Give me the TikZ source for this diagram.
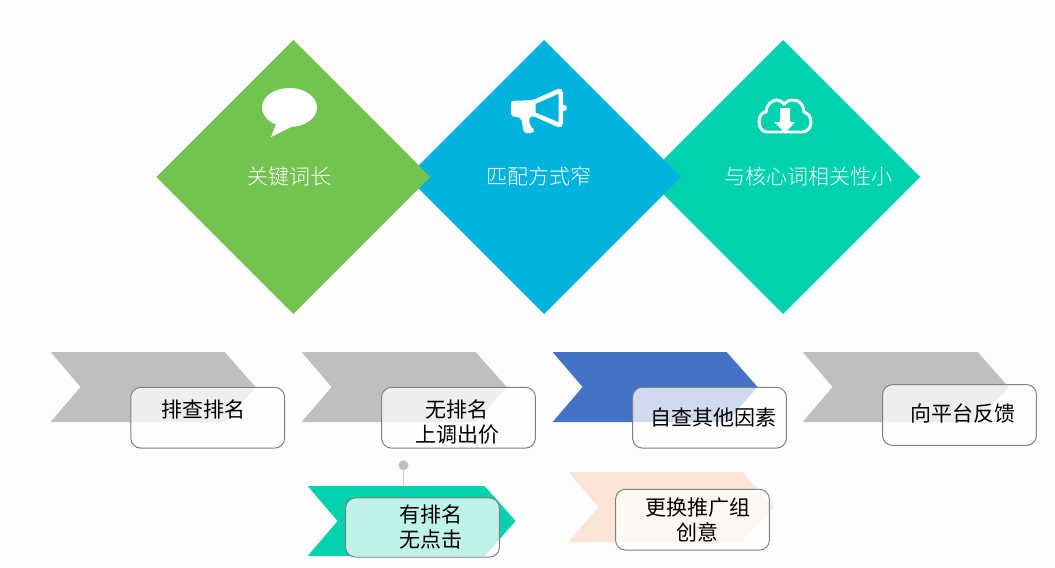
\documentclass[tikz,border=0pt]{standalone}
\usepackage{fontspec}
\newfontfamily\cjk{Noto Sans CJK SC Light}
\newfontfamily\cjkbox{Noto Sans CJK SC}
\usetikzlibrary{patterns,positioning}
\definecolor{leafGreen}{RGB}{114, 195, 79}
\definecolor{skyBlue}{RGB}{0, 179, 220}
\definecolor{mintTeal}{RGB}{0, 209, 174}
\definecolor{chevGray}{RGB}{191, 191, 191}
\definecolor{royalBlue}{RGB}{68, 114, 196}
\definecolor{peachTint}{RGB}{251, 229, 214}
\tikzset{
  headtext/.style={text=white, font=\cjk\fontsize{15.75}{18}\selectfont, inner sep=0pt},
  boxtext/.style={text=black, font=\cjkbox\fontsize{15.75}{18.75}\selectfont, align=center, inner sep=0pt},
  notebox/.style={draw=black!50, line width=0.75pt, fill=white, fill opacity=0.75, rounded corners=7.5pt,
    minimum width=115.4pt, minimum height=45.6pt, inner sep=0pt},
}
\begin{document}
\begin{tikzpicture}[x=0.75pt, y=-0.75pt]
    \useasboundingbox (0,0) rectangle (1055,567);
    \fill[white] (0,0) rectangle (1055,567);
    \fill[pattern=crosshatch dots, pattern color=black!5] (0,0) rectangle (1055,567);
    % diamonds, last one on top
    \foreach \x/\c in {783/mintTeal,544/skyBlue,293.3/leafGreen} {
        \fill[\c] (\x-137,177) -- (\x,40) -- (\x+137,177) -- (\x,314) -- cycle;
    }
    \node[headtext] (longword) at (289,176.5) {关键词长};
    \node[headtext] (narrowmatch) at (539,176.5) {匹配方式窄};
    \node[headtext] (lowrelevance) at (808,176.5) {与核心词相关性小};
    % speech bubble
    \fill[white] (289.5,107.5) ellipse (27.5 and 19.5);
    \fill[white] (277,122) -- (271,137) -- (293,126) -- cycle;
    % megaphone
    \fill[white, rounded corners=1.5pt] (511,101) -- (533,100) -- (560,88) -- (563,91) -- (563,125)
        -- (560,128) -- (533,116) -- (529,117) -- (530,126) -- (535,130) -- (533,133) -- (524,133)
        -- (521,118) -- (511,116) -- cycle;
    \fill[skyBlue] (535.5,104) -- (558.5,94) -- (558.5,122) -- (535.5,112.5) -- cycle;
    \fill[white] (564,108) circle (3);
    % cloud with arrow
    \draw[white, line width=2.2pt] (767,132) .. controls (762,132) and (759,127) .. (759,122)
        .. controls (759,116) and (762,112) .. (766,112)
        .. controls (766,105) and (772,100) .. (777,100)
        .. controls (780,100) and (782,102) .. (784,104)
        .. controls (786,102) and (789,100) .. (793,100)
        .. controls (800,100) and (804,106) .. (804,112)
        .. controls (808,113) and (811,117) .. (811,122)
        .. controls (811,128) and (807,132) .. (802,132) -- cycle;
    \fill[white] (780,108) -- (790,108) -- (790,122) -- (795,122) -- (785,133) -- (774,122) -- (780,122) -- cycle;
    % link to the lower chevron
    \node[circle, fill=chevGray, minimum size=7.5pt, inner sep=0pt] (linkdot) at (403.5,465.3) {};
    \coordinate (linkend) at (403.5,486);
    \draw[black!20, line width=0.6pt] (linkdot) -- (linkend);
    % chevrons
    \foreach \x/\y/\w/\c in {50.6/352/174/chevGray,301.6/352/174/chevGray,552.6/352/174/royalBlue,802.6/352/175/chevGray,
        307.6/486/177/mintTeal,568.4/472/174/peachTint} {
        \fill[\c] (\x,\y) -- (\x+\w,\y) -- (\x+\w+31,\y+35) -- (\x+\w,\y+70) -- (\x,\y+70) -- (\x+30,\y+35) -- cycle;
    }
    % boxes
    \node[notebox] (checkbox) at (207.7,417.7) {};
    \node[notebox] (raisebox) at (458.5,417.7) {};
    \node[notebox] (selfbox) at (709.5,417.7) {};
    \node[notebox] (reportbox) at (959.5,415) {};
    \node[notebox, minimum height=44.3pt] (clickbox) at (422.5,527.5) {};
    \node[notebox] (swapbox) at (692.5,519.7) {};
    \node[boxtext] (checktxt) at (203,409) {排查排名};
    \node[boxtext] (raisetxt) at (457,422.5) {无排名\\上调出价};
    \node[boxtext] (selftxt) at (713.5,418) {自查其他因素};
    \node[boxtext] (reporttxt) at (963,414) {向平台反馈};
    \node[boxtext] (clicktxt) at (431,527) {有排名\\无点击};
    \node[boxtext] (swaptxt) at (697.5,519.5) {更换推广组\\创意};
\end{tikzpicture}
\end{document}
